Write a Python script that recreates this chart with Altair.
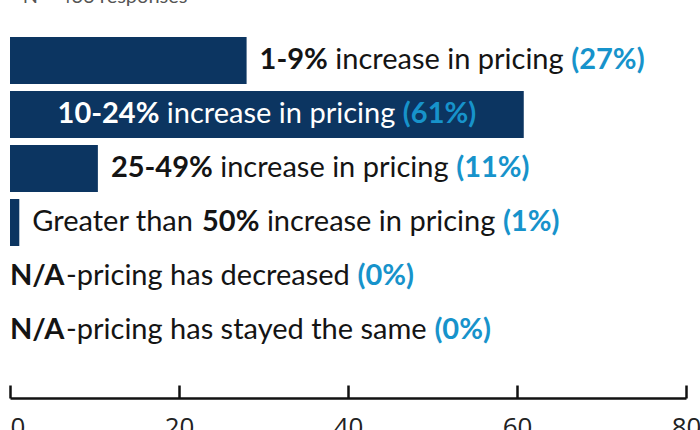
import glob
import os
import struct

import altair as alt
import pandas as pd

# ---------------- data ----------------
categories = [
    "1-9% increase in pricing",
    "10-24% increase in pricing",
    "25-49% increase in pricing",
    "Greater than 50% increase in pricing",
    "N/A-pricing has decreased",
    "N/A-pricing has stayed the same",
]
bar_values = [28.0, 60.8, 10.4, 1.1, 0.0, 0.0]
pct_labels = ["27%", "61%", "11%", "1%", "0%", "0%"]
label_parts = [
    [("1-9%", True), (" increase in pricing", False)],
    [("10-24%", True), (" increase in pricing", False)],
    [("25-49%", True), (" increase in pricing", False)],
    [("Greater than ", False), ("50%", True), (" increase in pricing", False)],
    [("N/A", True), ("-pricing has decreased", False)],
    [("N/A", True), ("-pricing has stayed the same", False)],
]
x_ticks = [0, 20, 40, 60, 80]
note = "N = 436 responses"

# ---------------- style ----------------
NAVY = "#0c3561"
BLUE = "#1793cb"
INK = "#141414"
FONT = "Lato"
FS = 29
W, H = 676, 361
X_MAX = 80
PPU = W / X_MAX
GAP = 13


# ---------------- font metrics (for placing mixed-weight text runs) ----------------
class Metrics:
    def __init__(self, path):
        d = open(path, "rb").read()
        self.d = d
        n = struct.unpack(">H", d[4:6])[0]
        t = {}
        for i in range(n):
            tag, _, off, ln = struct.unpack(">4sIII", d[12 + 16 * i: 28 + 16 * i])
            t[tag.decode("latin1")] = off
        self.upem = struct.unpack(">H", d[t["head"] + 18: t["head"] + 20])[0]
        nhm = struct.unpack(">H", d[t["hhea"] + 34: t["hhea"] + 36])[0]
        h = t["hmtx"]
        self.adv = [struct.unpack(">H", d[h + 4 * i: h + 4 * i + 2])[0] for i in range(nhm)]
        c = t["cmap"]
        nt = struct.unpack(">H", d[c + 2: c + 4])[0]
        sub = None
        for i in range(nt):
            pid, eid, so = struct.unpack(">HHI", d[c + 4 + 8 * i: c + 12 + 8 * i])
            fmt = struct.unpack(">H", d[c + so: c + so + 2])[0]
            if fmt == 4 and (pid, eid) in ((3, 1), (0, 3), (0, 4), (0, 1)):
                sub = c + so
                break
        s = sub
        sx2 = struct.unpack(">H", d[s + 6: s + 8])[0]
        k = sx2 // 2
        self.ends = struct.unpack(">%dH" % k, d[s + 14: s + 14 + sx2])
        self.starts = struct.unpack(">%dH" % k, d[s + 16 + sx2: s + 16 + 2 * sx2])
        self.deltas = struct.unpack(">%dh" % k, d[s + 16 + 2 * sx2: s + 16 + 3 * sx2])
        self.rpos = s + 16 + 3 * sx2
        self.roffs = struct.unpack(">%dH" % k, d[self.rpos: self.rpos + sx2])

    def glyph(self, ch):
        cp = ord(ch)
        for i, e in enumerate(self.ends):
            if cp <= e:
                if cp < self.starts[i]:
                    return 0
                if self.roffs[i] == 0:
                    return (cp + self.deltas[i]) & 0xFFFF
                a = self.rpos + 2 * i + self.roffs[i] + 2 * (cp - self.starts[i])
                g = struct.unpack(">H", self.d[a: a + 2])[0]
                return (g + self.deltas[i]) & 0xFFFF if g else 0
        return 0

    def width(self, text, size):
        tot = 0
        for ch in text:
            g = self.glyph(ch)
            tot += self.adv[g] if g < len(self.adv) else self.adv[-1]
        return tot * size / self.upem


class Approx:
    def __init__(self, em):
        self.em = em

    def width(self, text, size):
        return sum((0.25 if ch == " " else self.em) for ch in text) * size


def find_font(name):
    roots = ["/usr/share/fonts", "/usr/local/share/fonts",
             os.path.expanduser("~/.fonts"), os.path.expanduser("~/.local/share/fonts")]
    for r in roots:
        for p in glob.glob(os.path.join(r, "**", "*"), recursive=True):
            if os.path.basename(p).lower() == name.lower():
                return p
    return None


def load(name, em):
    p = find_font(name)
    if p:
        try:
            return Metrics(p)
        except Exception:
            pass
    return Approx(em)


m_reg = load("Lato-Regular.ttf", 0.5)
m_bold = load("Lato-Bold.ttf", 0.54)

# ---------------- build text runs ----------------
runs = []
for cat, val, pct, parts in zip(categories, bar_values, pct_labels, label_parts):
    segs = [(t, b, None) for t, b in parts] + [(" (" + pct + ")", True, "pct")]
    layout = []
    cum = 0.0
    for t, b, kind in segs:
        m = m_bold if b else m_reg
        stripped = t.strip()
        lead = m.width(t[: len(t) - len(t.lstrip())], FS)
        layout.append((stripped, b, kind, cum + lead))
        cum += m.width(t, FS)
    bar_px = val * PPU
    inside = cum + 2 * 40 < bar_px
    start = bar_px / 2 - cum / 2 if inside else bar_px + (GAP if val > 0 else 0)
    for stripped, b, kind, off in layout:
        color = BLUE if kind == "pct" else ("#ffffff" if inside else INK)
        runs.append({"cat": cat, "text": stripped, "bold": b, "color": color,
                     "x": (start + off) / PPU})

bars = pd.DataFrame({"cat": categories, "value": bar_values})
runs_df = pd.DataFrame(runs)

y_scale = alt.Scale(domain=categories, paddingInner=0.13, paddingOuter=0.4075, align=0)
x_scale = alt.Scale(domain=[0, X_MAX], nice=False, zero=True)

bar_layer = alt.Chart(bars).mark_bar(color=NAVY).encode(
    x=alt.X("value:Q", scale=x_scale, title=None,
            axis=alt.Axis(values=x_ticks, grid=False, domainColor="#111", domainWidth=2.5,
                          tickColor="#111", tickWidth=2.5, tickSize={"expr": "-13"},
                          labelPadding=29, labelBaseline="top", labelFont="Open Sans",
                          labelFontSize=26, labelColor="#222",
                          labelAlign={"condition": {"test": "datum.value === 0", "value": "left"},
                                      "value": "center"})),
    y=alt.Y("cat:N", scale=y_scale, sort=categories, axis=None),
)


def text_layer(bold):
    return alt.Chart(runs_df).transform_filter(
        "datum.bold" if bold else "!datum.bold"
    ).mark_text(
        align="left", baseline="middle", font=FONT, fontSize=FS,
        fontWeight="bold" if bold else "normal",
    ).encode(
        x=alt.X("x:Q", scale=x_scale, title=None),
        y=alt.Y("cat:N", scale=y_scale, sort=categories, axis=None),
        text="text:N",
        color=alt.Color("color:N", scale=None),
    )


chart = alt.layer(bar_layer, text_layer(False), text_layer(True)).properties(
    width=W, height=H,
    title=alt.TitleParams(note, anchor="start", baseline="alphabetic", offset=14, dx=14,
                          font=FONT, fontSize=20, fontWeight="normal", color="#555"),
    autosize=alt.AutoSizeParams(type="none"),
    padding={"left": 10, "top": 37, "right": 14, "bottom": 32},
).configure_view(stroke=None)

chart.save("out.html", embed_options={"renderer": "svg", "actions": False})
